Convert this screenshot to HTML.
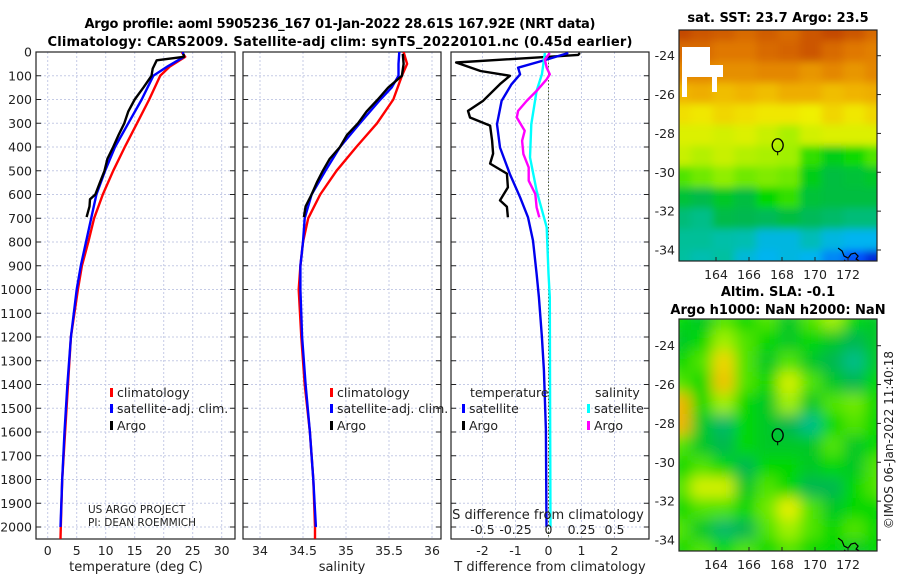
<!DOCTYPE html>
<html><head><meta charset="utf-8"><title>Argo profile</title>
<style>
html,body{margin:0;padding:0;background:#fff;}
svg{display:block;font-family:"DejaVu Sans","Liberation Sans",sans-serif;}
</style></head>
<body>
<svg id="fig" width="900" height="580" viewBox="0 0 900 580" xmlns="http://www.w3.org/2000/svg">
<defs>
<clipPath id="c1"><rect x="36" y="52" width="199" height="487"/></clipPath>
<clipPath id="c2"><rect x="243" y="52" width="198" height="487"/></clipPath>
<clipPath id="c3"><rect x="451" y="52" width="198" height="487"/></clipPath>
<clipPath id="cm1"><rect x="679" y="30" width="198" height="231"/></clipPath>
<clipPath id="cm2"><rect x="679" y="319" width="198" height="232"/></clipPath>
<filter id="blur1" x="-5%" y="-5%" width="110%" height="110%"><feGaussianBlur stdDeviation="4"/></filter>
<filter id="blur2" x="-5%" y="-5%" width="110%" height="110%"><feGaussianBlur stdDeviation="7"/></filter>
</defs>
<text x="340" y="28" text-anchor="middle" font-weight="bold" font-size="13" textLength="511">Argo profile: aoml 5905236_167 01-Jan-2022 28.61S 167.92E (NRT data)</text>
<text x="340" y="46" text-anchor="middle" font-weight="bold" font-size="13" textLength="585">Climatology: CARS2009. Satellite-adj clim: synTS_20220101.nc (0.45d earlier)</text>
<text x="778" y="22" text-anchor="middle" font-weight="bold" font-size="13">sat. SST: 23.7 Argo: 23.5</text>
<text x="778" y="296" text-anchor="middle" font-weight="bold" font-size="13">Altim. SLA: -0.1</text>
<text x="778" y="314" text-anchor="middle" font-weight="bold" font-size="13">Argo h1000: NaN h2000: NaN</text>
<text transform="translate(893,440) rotate(-90)" text-anchor="middle" font-size="12" fill="#222">©IMOS 06-Jan-2022 11:40:18</text>
</svg>
<script>
// ---- depth profile data ----
const climTdep = [0,20,60,100,200,300,400,500,600,700,800,900,1000,1200,1400,1600,1800,2000,2050];
const climT    = [23.1,23.7,21.1,19.4,17.5,15.4,13.3,11.3,9.5,8.0,7.0,5.9,5.2,4.0,3.5,3.0,2.5,2.25,2.2];
const satTdep  = [0,20,60,100,200,300,400,500,600,700,800,900,1000,1200,1400,1600,1800,2000];
const satT     = [23.3,23.5,20.7,18.2,16.2,13.9,11.6,9.9,8.4,7.5,6.6,5.7,5.0,4.0,3.4,2.9,2.5,2.2];
const argoTdep = [8,20,35,70,100,150,200,250,300,350,400,450,500,550,600,620,650,695];
const argoT    = [23.4,23.5,18.8,18.1,17.9,16.5,15.0,13.9,13.2,12.2,11.3,10.3,9.8,9.0,8.2,7.3,7.2,6.7];

const climSdep = [0,50,100,200,300,400,500,600,700,800,900,1000,1200,1400,1600,1800,2000,2050];
const climS    = [35.67,35.71,35.65,35.55,35.36,35.12,34.89,34.70,34.56,34.50,34.47,34.45,34.48,34.52,34.58,34.62,34.64,34.64];
const satSdep  = [0,50,100,150,200,300,400,500,600,700,800,900,1000,1200,1400,1600,1800,2000];
const satS     = [35.62,35.61,35.61,35.53,35.40,35.16,34.93,34.76,34.60,34.52,34.50,34.47,34.47,34.49,34.53,34.58,34.62,34.65];
const argoSdep = [8,50,100,150,200,250,300,350,400,450,500,550,600,650,695];
const argoS    = [35.66,35.67,35.65,35.49,35.37,35.24,35.14,35.01,34.93,34.81,34.73,34.66,34.60,34.53,34.51];

const dTargoDep = [4,12,44,80,100,135,205,248,276,310,373,428,470,512,570,625,652,696];
const dTargo    = [0.95,0.9,-2.8,-2.06,-1.17,-1.47,-1.98,-2.44,-2.38,-1.77,-1.71,-1.68,-1.77,-1.26,-1.23,-1.47,-1.26,-1.23];
const dTsatDep  = [4,32,66,94,136,206,304,402,514,612,696,794,934,1032,1200,1339,1590,2000];
const dTsat     = [0.6,-0.06,-0.92,-0.86,-1.12,-1.42,-1.56,-1.47,-1.17,-0.86,-0.62,-0.47,-0.36,-0.29,-0.2,-0.14,-0.08,-0.06];
const dSsatDep  = [4,94,164,304,444,584,738,934,1032,1500,2000];
const dSsat     = [-0.027,-0.05,-0.09,-0.13,-0.14,-0.09,-0.014,0.0,0.01,0.012,0.015];
const dSargoDep = [4,32,66,94,115,164,206,248,276,332,374,430,486,542,598,654,696];
const dSargo    = [0.01,-0.027,-0.014,0.01,-0.014,-0.09,-0.165,-0.23,-0.24,-0.18,-0.2,-0.19,-0.15,-0.15,-0.1,-0.09,-0.07];

const depthTicks = [0,100,200,300,400,500,600,700,800,900,1000,1100,1200,1300,1400,1500,1600,1700,1800,1900,2000];
const tempTicks = [0,5,10,15,20,25,30];
const salTicks = [34,34.5,35,35.5,36];
const salTickLabels = ["34","34.5","35","35.5","36"];
const dTTicks = [-2,-1,0,1,2];
const dSTicks = [-0.5,-0.25,0,0.25,0.5];
const dSTickLabels = ["-0.5","-0.25","0","0.25","0.5"];

// ---- map data (colour index 0=blue .. 1=red) ----
const sstGrid = [
[.95,.93,.92,.9,.92,.9,.93,.95,.93,.9],
[.9,.9,.88,.88,.9,.91,.93,.9,.88,.87],
[.86,.86,.85,.85,.86,.86,.84,.86,.84,.86],
[.8,.81,.79,.8,.79,.81,.81,.79,.8,.81],
[.75,.74,.76,.75,.74,.74,.73,.76,.74,.76],
[.71,.71,.7,.71,.69,.66,.7,.71,.71,.71],
[.69,.67,.69,.67,.66,.65,.58,.52,.56,.6],
[.6,.62,.64,.62,.63,.62,.52,.47,.48,.5],
[.48,.46,.5,.47,.55,.58,.48,.47,.47,.47],
[.4,.38,.46,.45,.44,.47,.44,.42,.4,.4],
[.36,.36,.34,.33,.27,.27,.32,.27,.25,.25],
[.35,.33,.35,.28,.25,.27,.25,.2,.14,.08]];
const slaGrid = [
[.55,.5,.6,.55,.6,.5,.6,.65,.55,.5],
[.5,.55,.65,.6,.55,.5,.55,.5,.45,.5],
[.55,.6,.76,.6,.5,.6,.5,.45,.38,.5],
[.6,.55,.78,.6,.55,.7,.6,.5,.45,.55],
[.8,.55,.65,.55,.5,.65,.5,.6,.62,.55],
[.8,.5,.42,.55,.5,.45,.38,.55,.6,.55],
[.6,.5,.45,.55,.5,.5,.5,.6,.5,.55],
[.55,.6,.55,.45,.55,.55,.5,.55,.5,.6],
[.6,.7,.7,.5,.6,.55,.45,.45,.55,.6],
[.55,.6,.6,.55,.62,.72,.6,.5,.55,.55],
[.6,.5,.42,.45,.6,.65,.6,.55,.6,.55],
[.55,.6,.55,.6,.55,.6,.55,.55,.5,.55]];
const lonTicks = [164,166,168,170,172];
const latTicks = [-24,-26,-28,-30,-32,-34];
const floatLon = [167.92];
const floatLat = [-28.61];

const NS = "http://www.w3.org/2000/svg";
const svg = document.getElementById("fig");
function mk(tag, attrs, parent){
  const e = document.createElementNS(NS, tag);
  for (const k in attrs) e.setAttribute(k, attrs[k]);
  (parent||svg).appendChild(e);
  return e;
}
function yD(d){ return 52 + d*0.2375; }
const panels = [
  {x0:36, x1:235, clip:"c1", ticks:tempTicks, labels:tempTicks.map(String), sx:v=>47.7+v*5.8, name:"temperature"},
  {x0:243,x1:441, clip:"c2", ticks:salTicks, labels:salTickLabels, sx:v=>260+(v-34)*86, name:"salinity"},
  {x0:451,x1:649, clip:"c3", ticks:dTTicks, labels:dTTicks.map(String), sx:v=>548.5+v*33, name:"t-difference"}
];
const xdS = v => 548.5 + v*132;
const Y0=52, Y1=539;

panels.forEach((p,pi)=>{
  const g = mk("g",{});
  
  
  depthTicks.forEach(d=>{
    const l = mk("line",{x1:p.x0,x2:p.x1,y1:yD(d),y2:yD(d),stroke:"#c5cbe6","stroke-width":1,"stroke-dasharray":"2,2"},g);
    
    
    const t1 = mk("line",{x1:p.x0,x2:p.x0+5,y1:yD(d),y2:yD(d),stroke:"#222","stroke-width":1},g);
    
    
    const t2 = mk("line",{x1:p.x1-5,x2:p.x1,y1:yD(d),y2:yD(d),stroke:"#222","stroke-width":1},g);
    
    
  });
  p.ticks.forEach((v,i)=>{
    const x = p.sx(v);
    const l = mk("line",{x1:x,x2:x,y1:Y0,y2:Y1,stroke:"#c5cbe6","stroke-width":1,"stroke-dasharray":"2,2"},g);
    
    
    const t = mk("text",{x:x,y:555,"text-anchor":"middle","font-size":12.5,fill:"#222"},g);
    t.textContent = p.labels[i];
    
    
  });
  const fr = mk("rect",{x:p.x0,y:Y0,width:p.x1-p.x0,height:Y1-Y0,fill:"none",stroke:"#222","stroke-width":1.2},g);
  
  
});
depthTicks.forEach(d=>{
  const t = mk("text",{x:32,y:yD(d)+4.5,"text-anchor":"end","font-size":12.5,fill:"#222"});
  t.textContent = String(d);
  
  
});
const zl = mk("line",{x1:548.5,x2:548.5,y1:Y0,y2:Y1,stroke:"#4a5a30","stroke-width":1,"stroke-dasharray":"1.5,2"});



function series(deps, vals, sx, color, clip, w){
  let d = "";
  deps.forEach((dep,i)=>{ d += (i?"L":"M") + sx(vals[i]).toFixed(1) + "," + yD(dep).toFixed(1); });
  return mk("path",{d:d,fill:"none",stroke:color,"stroke-width":w||2.4,"stroke-linejoin":"round","clip-path":"url(#"+clip+")"});
}
let s;
s = series(climTdep, climT, panels[0].sx, "#ff0000","c1");


s = series(satTdep, satT, panels[0].sx, "#0000ff","c1");


s = series(argoTdep, argoT, panels[0].sx, "#000000","c1");


s = series(climSdep, climS, panels[1].sx, "#ff0000","c2");


s = series(satSdep, satS, panels[1].sx, "#0000ff","c2");


s = series(argoSdep, argoS, panels[1].sx, "#000000","c2");


s = series(dTargoDep, dTargo, panels[2].sx, "#000000","c3");


s = series(dTsatDep, dTsat, panels[2].sx, "#0000ee","c3");


s = series(dSsatDep, dSsat, xdS, "#00ffff","c3");


s = series(dSargoDep, dSargo, xdS, "#ff00ff","c3");



dSTicks.forEach((v,i)=>{
  const t = mk("text",{x:xdS(v),y:534,"text-anchor":"middle","font-size":12.5,fill:"#222"});
  t.textContent = dSTickLabels[i];
  
  
});
function label(x,y,txt,name,anchor,size){
  const t = mk("text",{x:x,y:y,"text-anchor":anchor||"start","font-size":size||12.5,fill:"#222"});
  t.textContent = txt;
  
  
  return t;
}
label(548,519,"S difference from climatology","s-diff-axis-title","middle",13);
label(136,571,"temperature (deg C)","temp-axis-title","middle",13);
label(342,571,"salinity","sal-axis-title","middle",13);
label(550,571,"T difference from climatology","t-diff-axis-title","middle",13);
label(88,513,"US ARGO PROJECT","project-label","start",10.5);
label(88,526,"PI: DEAN ROEMMICH","pi-label","start",10.5);

function legend(mx,y,color,txt,name){
  const m = mk("rect",{x:mx,y:y-9,width:3,height:9,fill:color});
  
  
  label(mx+7,y,txt,name);
}
legend(110,397,"#ff0000","climatology","legend-temp-climatology");
legend(110,413,"#0000ff","satellite-adj. clim.","legend-temp-satellite");
legend(110,430,"#000000","Argo","legend-temp-argo");
legend(330,397,"#ff0000","climatology","legend-sal-climatology");
legend(330,413,"#0000ff","satellite-adj. clim.","legend-sal-satellite");
legend(330,430,"#000000","Argo","legend-sal-argo");
label(470,397,"temperature","legend-temperature-heading");
legend(462,413,"#0000ff","satellite","legend-tdiff-satellite");
legend(462,430,"#000000","Argo","legend-tdiff-argo");
label(595,397,"salinity","legend-salinity-heading");
legend(587,413,"#00ffff","satellite","legend-sdiff-satellite");
legend(587,430,"#ff00ff","Argo","legend-sdiff-argo");

// ---- maps ----
const stops = [[0,[0,0,140]],[0.12,[0,64,255]],[0.25,[0,180,240]],[0.35,[0,192,160]],[0.45,[0,184,80]],[0.55,[0,216,0]],[0.65,[160,240,0]],[0.73,[240,240,0]],[0.8,[240,180,0]],[0.88,[224,120,0]],[1,[176,40,0]]];
function cmap(v){
  for(let i=1;i<stops.length;i++){
    if(v<=stops[i][0]){
      const a=stops[i-1],b=stops[i],f=(v-a[0])/(b[0]-a[0]);
      const c=a[1].map((x,k)=>Math.round(x+(b[1][k]-x)*f));
      return "rgb("+c.join(",")+")";
    }
  }
  return "rgb(176,40,0)";
}
function drawMap(top, bottom, grid, clip, blur, name, lat24y){
  const X0=679,X1=877;
  const lx = lon => 716 + (lon-164)*16.5;
  const ly = lat => lat24y + (-24-lat)*19.43;
  const g = mk("g",{"clip-path":"url(#"+clip+")"});
  
  
  const inner = mk("g",{filter:"url(#"+blur+")"},g);
  const rows=grid.length, cols=grid[0].length;
  const cw=(X1-X0+20)/cols, ch=(bottom-top+20)/rows;
  grid.forEach((row,r)=>row.forEach((v,c)=>{
    const cell = mk("rect",{x:X0-10+c*cw,y:top-10+r*ch,width:cw+0.5,height:ch+0.5,fill:cmap(v)},inner);
    
    
  }));
  const cx=lx(171.4), cy=ly(-33.9);
  const coast = mk("path",{d:"M"+cx+","+cy+" l4,3 l2,5 l4,2 l3,-4 l4,-1 l3,3 l-2,3 l5,3 l4,3 l3,2 M"+(cx+6)+","+(cy+12)+" l3,2",fill:"none",stroke:"#000","stroke-width":1.2},g);
  
  
  floatLon.forEach((lo,i)=>{
    const c = mk("ellipse",{cx:lx(lo)-3,cy:ly(floatLat[i]),rx:5.5,ry:6.5,fill:"none",stroke:"#000","stroke-width":1.3},g);
    
    
    const tl = mk("line",{x1:lx(lo)-3,x2:lx(lo)-3,y1:ly(floatLat[i])+6.5,y2:ly(floatLat[i])+10,stroke:"#000","stroke-width":1},g);
    
    
  });
  const fr = mk("rect",{x:X0,y:top,width:X1-X0,height:bottom-top,fill:"none",stroke:"#222","stroke-width":1.2});
  
  
  lonTicks.forEach(lo=>{
    const t = mk("line",{x1:lx(lo),x2:lx(lo),y1:bottom,y2:bottom-4,stroke:"#222"});
    
    
    label(lx(lo),bottom+18,String(lo),"lon-tick-label","middle",12.5);
  });
  latTicks.forEach(la=>{
    const t = mk("line",{x1:X1,x2:X1+4,y1:ly(la),y2:ly(la),stroke:"#222"});
    
    
    label(X0-4,ly(la)+4.5,String(la),"lat-tick-label","end",12.5);
  });
  return {lx,ly};
}
const m1 = drawMap(30,261,sstGrid,"cm1","blur1","sst",55.7);
[[682,47,28,18],[682,65,41,12],[682,77,5,20],[712,77,5,15]].forEach(r=>{
  const w = mk("rect",{x:r[0],y:r[1],width:r[2],height:r[3],fill:"#fff"});
  
  
});
drawMap(319,551,slaGrid,"cm2","blur2","sla",345.7);
</script>
</body></html>
